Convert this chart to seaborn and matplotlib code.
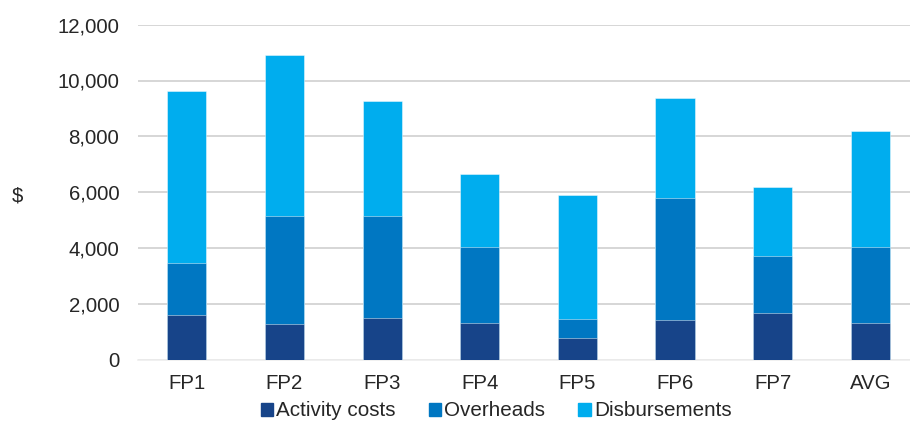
import matplotlib
matplotlib.use("Agg")
import matplotlib.pyplot as plt
import matplotlib.patches as mpatches
import numpy as np
import pandas as pd
import seaborn as sns

# Cost breakdown per project (stacked components, $)
categories = ["FP1", "FP2", "FP3", "FP4", "FP5", "FP6", "FP7", "AVG"]
activity_costs = [1600, 1260, 1500, 1310, 760, 1410, 1680, 1310]
overheads = [1870, 3870, 3630, 2730, 700, 4370, 2030, 2730]
disbursements = [6160, 5800, 4140, 2600, 4450, 3580, 2470, 4160]
series_names = ["Activity costs", "Overheads", "Disbursements"]
yticks = [0, 2000, 4000, 6000, 8000, 10000, 12000]

colors = ["#174489", "#0077c2", "#00adee"]
text_color = "#262626"

sns.set_theme(style="white")
plt.rcParams["font.family"] = ["Liberation Sans", "DejaVu Sans"]

df = pd.DataFrame({
    "category": categories,
    "a": activity_costs,
    "o": overheads,
    "d": disbursements,
})
df["top_a"] = df["a"]
df["top_o"] = df["a"] + df["o"]
df["top_d"] = df["a"] + df["o"] + df["d"]

fig = plt.figure(figsize=(9.10, 4.21), dpi=100)
ax_left, ax_bottom = 138 / 910, 61.5 / 421
ax_w, ax_h = 1 - 138 / 910, (359.5 - 24.7) / 421
ax = fig.add_axes([ax_left, ax_bottom, ax_w, ax_h])

# Draw from the tallest cumulative total down so each segment shows
for col, c in zip(["top_d", "top_o", "top_a"], colors[::-1]):
    sns.barplot(data=df, x="category", y=col, color=c, width=0.4,
                saturation=1, ax=ax, edgecolor=(1, 1, 1, 0.45),
                linewidth=0.7, zorder=3)

ax.set_ylim(0, 12000)
ax.set_xlim(-0.5, 7.407)
ax.set_yticks(yticks)
ax.set_yticklabels([f"{v:,}" for v in yticks])
ax.yaxis.grid(True, color="#d0d0d0", linewidth=1.2, zorder=0)
ax.set_axisbelow(True)
for s in ["top", "right", "left"]:
    ax.spines[s].set_visible(False)
ax.spines["bottom"].set_color("#eeeeee")
ax.spines["bottom"].set_linewidth(1.2)
ax.spines["bottom"].set_zorder(1)

ax.tick_params(axis="y", length=0, pad=13.5, labelsize=14.7, labelcolor=text_color)
ax.tick_params(axis="x", length=0, pad=10.5, labelsize=14.7, labelcolor=text_color)
ax.set_xlabel("")
ax.set_ylabel("")
fig.text(17 / 910, 1 - 196 / 421, "$", fontsize=14.7, color=text_color,
         ha="center", va="center")

handles = [mpatches.Patch(color=c, label=n) for c, n in zip(colors, series_names)]
fig.legend(handles=handles, loc="center", bbox_to_anchor=(496 / 910, 1 - 411 / 421),
           ncol=3, frameon=False, fontsize=14.9, handlelength=0.6, handleheight=0.6,
           handletextpad=0.15, columnspacing=1.6, labelcolor=text_color,
           borderaxespad=0, borderpad=0)

fig.savefig("out.png", dpi=100, facecolor="white")
